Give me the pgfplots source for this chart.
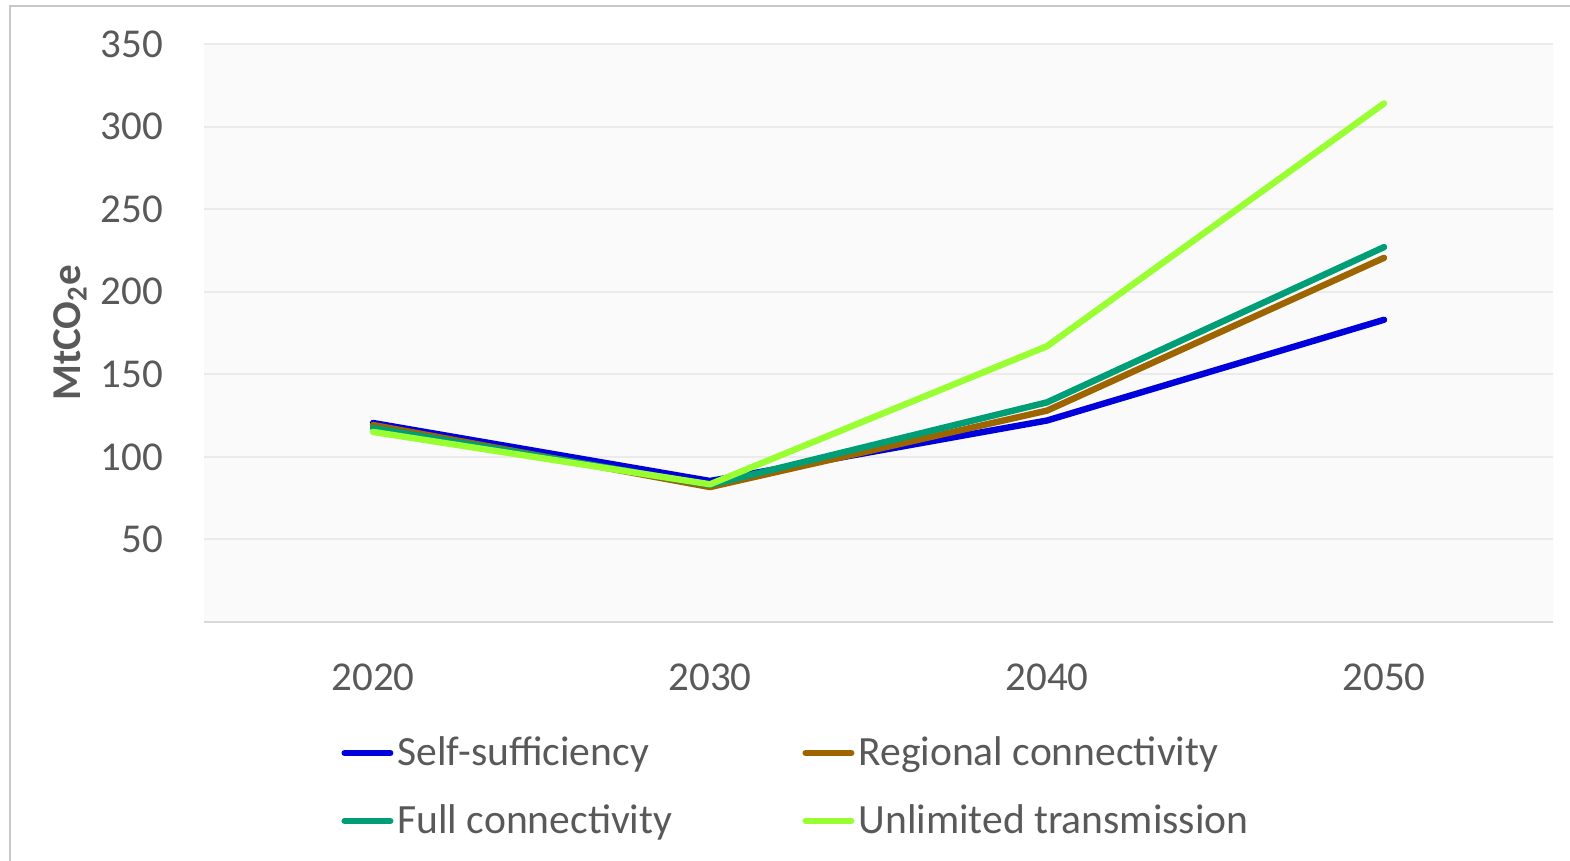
\documentclass[border=0pt]{standalone}
\usepackage{pgfplots}
\pgfplotsset{compat=1.18}
\usepackage{fontspec}
\setmainfont{Carlito}
\definecolor{txt}{HTML}{595959}
\definecolor{bgc}{HTML}{FAFAFA}
\definecolor{gridc}{HTML}{EBEBEB}
\definecolor{axc}{HTML}{D9D9D9}
\definecolor{framec}{HTML}{C8C8C8}
\definecolor{cself}{HTML}{0000DD}
\definecolor{creg}{HTML}{9E6400}
\definecolor{cfull}{HTML}{009E76}
\definecolor{cunl}{HTML}{99FF33}
\newcommand\fs{\fontsize{20.5pt}{24pt}\selectfont}
\newcommand\lfs{\fontsize{20.8pt}{24pt}\selectfont}
\begin{document}
\begin{tikzpicture}[x=1pt,y=1pt]
\useasboundingbox (-102.25,-119.5) rectangle (682.75,311);
\draw[framec, line width=1pt] (-97.25,-119.5) -- (-97.25,307.75) -- (682.75,307.75);
\begin{axis}[
  at={(0,0)}, anchor=south west,
  scale only axis, width=674pt, height=289pt,
  xmin=-0.5, xmax=3.5, ymin=0, ymax=350,
  xtick={0,1,2,3}, xticklabels={2020,2030,2040,2050},
  ytick={50,100,...,350},
  /pgf/number format/assume math mode=true,
  axis background/.style={fill=bgc},
  axis x line*=bottom, axis y line*=left,
  x axis line style={axc, line width=1pt, -},
  y axis line style={draw=none},
  major tick length=0pt,
  ymajorgrids, grid style={gridc, line width=1pt},
  tick label style={font=\fs, text=txt},
  yticklabel style={inner sep=0pt, anchor=east, xshift=-20.5pt},
  xticklabel style={inner sep=0pt, anchor=north, yshift=-20.5pt},
  ylabel={\textbf{MtCO\textsubscript{2}e}},
  ylabel style={at={(axis description cs:-0.0998,0.5)}, anchor=center, font=\fs, text=txt},
  legend columns=2,
  legend style={at={(axis description cs:0.1013,-0.195)}, anchor=north west, draw=none, fill=none,
    font=\lfs, text=txt, inner sep=0pt, row sep=16pt,
    nodes={inner sep=1pt}},
  legend cell align=left,
  legend image code/.code={\draw[#1, line width=3pt, line cap=round] (0pt,0pt) -- (23pt,0pt);},
  every axis plot/.append style={line width=3.2pt, line cap=round, line join=round, mark=none},
]
\addplot[cself] coordinates {(0,120.5) (1,85.4) (2,122) (3,183)};
\addlegendentry{\hspace{1pt}\makebox[201.5pt][l]{Self-sufficiency}}
\addplot[creg] coordinates {(0,119.3) (1,81.7) (2,128) (3,220.5)};
\addlegendentry{\hspace{1pt}Regional connectivity}
\addplot[cfull] coordinates {(0,117.5) (1,83) (2,133) (3,227)};
\addlegendentry{\hspace{1pt}\makebox[201.5pt][l]{Full connectivity}}
\addplot[cunl] coordinates {(0,115.1) (1,83.4) (2,167) (3,314)};
\addlegendentry{\hspace{1pt}Unlimited transmission}
\end{axis}
\end{tikzpicture}
\end{document}
